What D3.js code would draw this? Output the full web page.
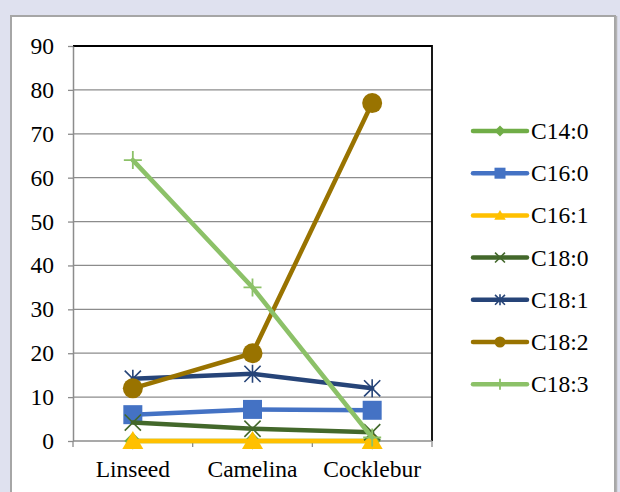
<!DOCTYPE html>
<html>
<head>
<meta charset="utf-8">
<script src="https://cdn.jsdelivr.net/npm/d3@7"></script>
<style>
  html, body { margin: 0; padding: 0; background: #dfe1ef; }
  svg { display: block; }
  svg text { font-family: "Liberation Serif", "Times New Roman", serif; }
</style>
</head>
<body>
<svg id="chart" width="620" height="492"></svg>
<script>
// Fatty acid composition (%) of three seed oils
const categories = ["Linseed", "Camelina", "Cocklebur"];
const seriesNames = ["C14:0", "C16:0", "C16:1", "C18:0", "C18:1", "C18:2", "C18:3"];
const seriesColors = ["#70ad47", "#4472c4", "#ffc000", "#43682b", "#264478", "#997300", "#8cc168"];
const seriesMarkers = ["diamond", "square", "triangle", "x", "asterisk", "circle", "plus"];
const c14_0 = [0, 0, 0];
const c16_0 = [6, 7.2, 7];
const c16_1 = [0, 0, 0];
const c18_0 = [4.2, 2.8, 2];
const c18_1 = [14.2, 15.3, 12];
const c18_2 = [12, 20, 77];
const c18_3 = [64, 35, 0.8];
const yTicks = [0, 10, 20, 30, 40, 50, 60, 70, 80, 90];

const seriesValues = [c14_0, c16_0, c16_1, c18_0, c18_1, c18_2, c18_3];
const series = seriesNames.map((name, i) => ({
  name, color: seriesColors[i], marker: seriesMarkers[i], values: seriesValues[i]
}));

const svg = d3.select("#chart");
const fontFamily = "Liberation Serif";
const fontSize = 23.5;

// panel with a soft gray border
svg.append("rect").attr("x", 11).attr("y", 16).attr("width", 604).attr("height", 490)
  .attr("fill", "#ffffff").attr("stroke", "#a6a6a6").attr("stroke-width", 2);
svg.append("line").attr("x1", 616.5).attr("x2", 616.5).attr("y1", 16).attr("y2", 492)
  .attr("stroke", "#b4b4b4").attr("stroke-width", 1.5);

const plot = { left: 73, top: 46, right: 432, bottom: 441 };

const x = d3.scaleBand().domain(categories).range([plot.left, plot.right]);
const y = d3.scaleLinear().domain([0, 90]).range([plot.bottom, plot.top]);

// horizontal gridlines
svg.append("g").selectAll("line").data(yTicks.filter(t => t > 0)).join("line")
  .attr("x1", plot.left).attr("x2", plot.right)
  .attr("y1", d => y(d)).attr("y2", d => y(d))
  .attr("stroke", "#8c8c8c").attr("stroke-width", 1.3);

// plot frame (top and right)
svg.append("path")
  .attr("d", `M${plot.left},${plot.top}H${plot.right}V${plot.bottom}`)
  .attr("fill", "none").attr("stroke", "#000").attr("stroke-width", 1.8);

// y axis
const yAxis = svg.append("g").attr("transform", `translate(${plot.left},0)`)
  .call(d3.axisLeft(y).tickValues(yTicks).tickSize(5).tickPadding(14).tickSizeOuter(0));
yAxis.attr("font-family", null).attr("font-size", null);
yAxis.select(".domain").attr("stroke", "#8c8c8c").attr("stroke-width", 1.5);
yAxis.selectAll(".tick line").attr("stroke", "#8c8c8c").attr("stroke-width", 1.3);
yAxis.selectAll(".tick text").style("font-family", fontFamily).style("font-size", fontSize + "px")
  .attr("fill", "#000");

// x axis with ticks at category boundaries
const xAxisG = svg.append("g").attr("transform", `translate(0,${plot.bottom})`);
xAxisG.append("line").attr("x1", plot.left).attr("x2", plot.right)
  .attr("stroke", "#8c8c8c").attr("stroke-width", 1.5);
const bounds = categories.map(c => x(c)).concat([x(categories[categories.length - 1]) + x.bandwidth()]);
xAxisG.selectAll("line.tk").data(bounds).join("line").attr("class", "tk")
  .attr("x1", d => d).attr("x2", d => d).attr("y1", 0).attr("y2", 6)
  .attr("stroke", "#8c8c8c").attr("stroke-width", 1.3);
xAxisG.selectAll("text").data(categories).join("text")
  .attr("x", d => x(d) + x.bandwidth() / 2).attr("y", 36)
  .attr("text-anchor", "middle")
  .style("font-family", fontFamily).style("font-size", fontSize + "px")
  .attr("fill", "#000").text(d => d);

// marker drawing
function drawMarker(g, type, color, s) {
  const h = s / 2;
  switch (type) {
    case "diamond":
      g.append("path").attr("d", `M0,${-h}L${h},0L0,${h}L${-h},0Z`).attr("fill", color);
      break;
    case "square":
      g.append("rect").attr("x", -h).attr("y", -h).attr("width", s).attr("height", s)
        .attr("fill", color);
      break;
    case "triangle":
      g.append("path").attr("d", `M0,${-h}L${h * 1.05},${h * 0.8}L${-h * 1.05},${h * 0.8}Z`)
        .attr("fill", color);
      break;
    case "circle":
      g.append("circle").attr("r", h).attr("fill", color);
      break;
    case "x":
      g.append("path").attr("d", `M${-h * 0.9},${-h * 0.9}L${h * 0.9},${h * 0.9}M${-h * 0.9},${h * 0.9}L${h * 0.9},${-h * 0.9}`)
        .attr("stroke", color).attr("stroke-width", 1.6).attr("fill", "none");
      break;
    case "asterisk":
      g.append("path").attr("d", `M${-h * 0.9},${-h * 0.9}L${h * 0.9},${h * 0.9}M${-h * 0.9},${h * 0.9}L${h * 0.9},${-h * 0.9}M0,${-h}V${h}`)
        .attr("stroke", color).attr("stroke-width", 1.6).attr("fill", "none");
      break;
    case "plus":
      g.append("path").attr("d", `M${-h},0H${h}M0,${-h}V${h}`)
        .attr("stroke", color).attr("stroke-width", 1.8).attr("fill", "none");
      break;
  }
}

const line = d3.line()
  .x((d, i) => x(categories[i]) + x.bandwidth() / 2)
  .y(d => y(d));

const markerSize = { diamond: 17, square: 19, triangle: 20, x: 18, asterisk: 18, circle: 20, plus: 18 };

series.forEach(s => {
  const g = svg.append("g");
  g.append("path").datum(s.values).attr("d", line)
    .attr("fill", "none").attr("stroke", s.color).attr("stroke-width", 4.5)
    .attr("stroke-linejoin", "round").attr("stroke-linecap", "round");
  s.values.forEach((v, i) => {
    const mg = g.append("g")
      .attr("transform", `translate(${x(categories[i]) + x.bandwidth() / 2},${y(v)})`);
    drawMarker(mg, s.marker, s.color, markerSize[s.marker]);
  });
});

// legend
const legend = svg.append("g");
series.forEach((s, i) => {
  const ly = 131 + i * 42.2;
  const lg = legend.append("g").attr("transform", `translate(0,${ly})`);
  lg.append("line").attr("x1", 473).attr("x2", 527).attr("y1", 0).attr("y2", 0)
    .attr("stroke", s.color).attr("stroke-width", 4.5).attr("stroke-linecap", "round");
  const mg = lg.append("g").attr("transform", "translate(500,0)");
  drawMarker(mg, s.marker, s.color, 11);
  lg.append("text").attr("x", 531).attr("y", 8)
    .style("font-family", fontFamily).style("font-size", fontSize + "px")
    .attr("fill", "#000").text(s.name);
});
</script>
</body>
</html>
